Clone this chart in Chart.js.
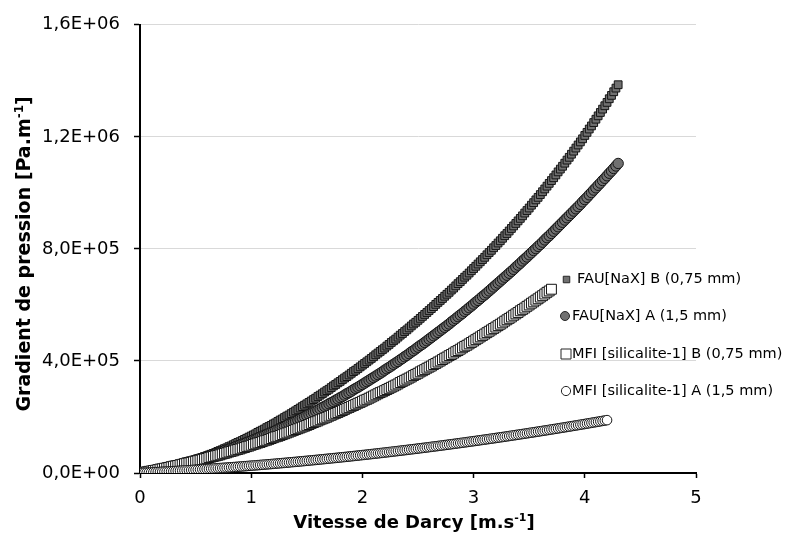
<!DOCTYPE html>
<html>
<head>
<meta charset="utf-8">
<script src="https://cdn.jsdelivr.net/npm/chart.js@4.4.1/dist/chart.umd.min.js"></script>
<style>
  html, body { margin: 0; padding: 0; background: #fff; }
</style>
</head>
<body>
<canvas id="gradientChart" width="792" height="533"></canvas>
<script>
// Vitesse de Darcy (m/s), pas de 0,02
const velocity = [
  0, 0.02, 0.04, 0.06, 0.08, 0.1, 0.12, 0.14, 0.16, 0.18,
  0.2, 0.22, 0.24, 0.26, 0.28, 0.3, 0.32, 0.34, 0.36, 0.38,
  0.4, 0.42, 0.44, 0.46, 0.48, 0.5, 0.52, 0.54, 0.56, 0.58,
  0.6, 0.62, 0.64, 0.66, 0.68, 0.7, 0.72, 0.74, 0.76, 0.78,
  0.8, 0.82, 0.84, 0.86, 0.88, 0.9, 0.92, 0.94, 0.96, 0.98,
  1, 1.02, 1.04, 1.06, 1.08, 1.1, 1.12, 1.14, 1.16, 1.18,
  1.2, 1.22, 1.24, 1.26, 1.28, 1.3, 1.32, 1.34, 1.36, 1.38,
  1.4, 1.42, 1.44, 1.46, 1.48, 1.5, 1.52, 1.54, 1.56, 1.58,
  1.6, 1.62, 1.64, 1.66, 1.68, 1.7, 1.72, 1.74, 1.76, 1.78,
  1.8, 1.82, 1.84, 1.86, 1.88, 1.9, 1.92, 1.94, 1.96, 1.98,
  2, 2.02, 2.04, 2.06, 2.08, 2.1, 2.12, 2.14, 2.16, 2.18,
  2.2, 2.22, 2.24, 2.26, 2.28, 2.3, 2.32, 2.34, 2.36, 2.38,
  2.4, 2.42, 2.44, 2.46, 2.48, 2.5, 2.52, 2.54, 2.56, 2.58,
  2.6, 2.62, 2.64, 2.66, 2.68, 2.7, 2.72, 2.74, 2.76, 2.78,
  2.8, 2.82, 2.84, 2.86, 2.88, 2.9, 2.92, 2.94, 2.96, 2.98,
  3, 3.02, 3.04, 3.06, 3.08, 3.1, 3.12, 3.14, 3.16, 3.18,
  3.2, 3.22, 3.24, 3.26, 3.28, 3.3, 3.32, 3.34, 3.36, 3.38,
  3.4, 3.42, 3.44, 3.46, 3.48, 3.5, 3.52, 3.54, 3.56, 3.58,
  3.6, 3.62, 3.64, 3.66, 3.68, 3.7, 3.72, 3.74, 3.76, 3.78,
  3.8, 3.82, 3.84, 3.86, 3.88, 3.9, 3.92, 3.94, 3.96, 3.98,
  4, 4.02, 4.04, 4.06, 4.08, 4.1, 4.12, 4.14, 4.16, 4.18,
  4.2, 4.22, 4.24, 4.26, 4.28, 4.3
];

// Gradient de pression en kPa/m (converti en Pa/m plus bas)
const fauB = [
  0, 1, 2, 3, 4, 6, 7, 9, 10, 12,
  13, 15, 17, 19, 21, 22, 25, 27, 29, 31,
  34, 36, 39, 41, 44, 46, 49, 52, 55, 58,
  61, 64, 67, 70, 73, 77, 80, 83, 87, 90,
  94, 97, 101, 105, 109, 112, 116, 120, 124, 128,
  132, 136, 140, 145, 149, 153, 157, 162, 166, 170,
  175, 179, 184, 189, 193, 198, 203, 207, 212, 217,
  222, 227, 232, 237, 242, 247, 252, 257, 262, 267,
  273, 278, 283, 289, 294, 299, 305, 311, 316, 322,
  327, 333, 339, 344, 350, 356, 362, 367, 373, 379,
  385, 391, 397, 403, 409, 415, 422, 428, 434, 440,
  446, 453, 459, 466, 472, 478, 485, 492, 498, 505,
  511, 518, 525, 532, 538, 545, 552, 559, 566, 573,
  580, 587, 594, 602, 609, 616, 623, 631, 638, 645,
  653, 660, 668, 676, 683, 691, 699, 706, 714, 722,
  730, 738, 746, 754, 762, 770, 779, 787, 795, 804,
  812, 821, 829, 838, 847, 855, 864, 873, 882, 891,
  900, 909, 918, 928, 937, 946, 956, 965, 975, 984,
  994, 1004, 1014, 1024, 1034, 1044, 1054, 1064, 1075, 1085,
  1095, 1106, 1117, 1127, 1138, 1149, 1160, 1171, 1182, 1193,
  1205, 1216, 1228, 1239, 1251, 1263, 1275, 1287, 1299, 1311,
  1323, 1336, 1348, 1361, 1374, 1386
];

const fauA = [
  0, 1, 3, 4, 6, 8, 9, 11, 13, 14,
  16, 18, 20, 22, 24, 25, 27, 29, 31, 34,
  36, 38, 40, 42, 44, 47, 49, 51, 54, 56,
  59, 61, 64, 66, 69, 71, 74, 77, 80, 82,
  85, 88, 91, 94, 97, 100, 103, 106, 109, 112,
  115, 118, 121, 125, 128, 131, 135, 138, 141, 145,
  148, 152, 155, 159, 163, 166, 170, 174, 177, 181,
  185, 189, 193, 197, 201, 205, 209, 213, 217, 221,
  225, 229, 234, 238, 242, 247, 251, 255, 260, 264,
  269, 273, 278, 283, 287, 292, 297, 302, 306, 311,
  316, 321, 326, 331, 336, 341, 346, 351, 356, 361,
  367, 372, 377, 382, 388, 393, 398, 404, 409, 415,
  420, 426, 432, 437, 443, 449, 455, 460, 466, 472,
  478, 484, 490, 496, 502, 508, 514, 520, 526, 532,
  539, 545, 551, 558, 564, 570, 577, 583, 590, 596,
  603, 610, 616, 623, 630, 636, 643, 650, 657, 664,
  671, 678, 685, 692, 699, 706, 713, 720, 727, 735,
  742, 749, 757, 764, 771, 779, 786, 794, 801, 809,
  816, 824, 832, 840, 847, 855, 863, 871, 879, 887,
  895, 903, 911, 919, 927, 935, 943, 951, 959, 968,
  976, 984, 993, 1001, 1010, 1018, 1027, 1035, 1044, 1052,
  1061, 1070, 1078, 1087, 1096, 1105
];

const mfiB = [
  0, 1, 3, 4, 6, 7, 9, 10, 12, 14,
  15, 17, 18, 20, 22, 24, 25, 27, 29, 31,
  33, 35, 36, 38, 40, 42, 44, 46, 48, 50,
  52, 55, 57, 59, 61, 63, 65, 68, 70, 72,
  75, 77, 79, 82, 84, 86, 89, 91, 94, 96,
  99, 102, 104, 107, 109, 112, 115, 117, 120, 123,
  126, 129, 131, 134, 137, 140, 143, 146, 149, 152,
  155, 158, 161, 164, 167, 170, 173, 177, 180, 183,
  186, 190, 193, 196, 199, 203, 206, 210, 213, 216,
  220, 223, 227, 231, 234, 238, 241, 245, 249, 252,
  256, 260, 263, 267, 271, 275, 279, 283, 287, 290,
  294, 298, 302, 306, 310, 314, 318, 323, 327, 331,
  335, 339, 343, 348, 352, 356, 361, 365, 369, 374,
  378, 382, 387, 391, 396, 400, 405, 410, 414, 419,
  423, 428, 433, 437, 442, 447, 452, 456, 461, 466,
  471, 476, 481, 486, 491, 496, 501, 506, 511, 516,
  521, 526, 531, 536, 542, 547, 552, 557, 563, 568,
  573, 579, 584, 589, 595, 600, 606, 611, 617, 622,
  628, 633, 639, 645, 650, 656
];

const mfiA = [
  0, 0.4, 0.8, 1.2, 1.7, 2.1, 2.5, 2.9, 3.4, 3.8,
  4.3, 4.7, 5.2, 5.7, 6.1, 6.6, 7.1, 7.5, 8, 8.5,
  9, 9.5, 10, 10.5, 11.1, 11.6, 12.1, 12.6, 13.2, 13.7,
  14.2, 14.8, 15.3, 15.9, 16.5, 17, 17.6, 18.2, 18.8, 19.3,
  19.9, 20.5, 21.1, 21.7, 22.3, 23, 23.6, 24.2, 24.8, 25.5,
  26.1, 26.7, 27.4, 28, 28.7, 29.3, 30, 30.7, 31.4, 32,
  32.7, 33.4, 34.1, 34.8, 35.5, 36.2, 36.9, 37.6, 38.4, 39.1,
  39.8, 40.6, 41.3, 42, 42.8, 43.6, 44.3, 45.1, 45.8, 46.6,
  47.4, 48.2, 49, 49.8, 50.6, 51.4, 52.2, 53, 53.8, 54.6,
  55.4, 56.3, 57.1, 57.9, 58.8, 59.6, 60.5, 61.4, 62.2, 63.1,
  64, 64.8, 65.7, 66.6, 67.5, 68.4, 69.3, 70.2, 71.1, 72,
  72.9, 73.9, 74.8, 75.7, 76.7, 77.6, 78.6, 79.5, 80.5, 81.4,
  82.4, 83.4, 84.4, 85.3, 86.3, 87.3, 88.3, 89.3, 90.3, 91.3,
  92.3, 93.4, 94.4, 95.4, 96.4, 97.5, 98.5, 99.6, 100.6, 101.7,
  102.7, 103.8, 104.9, 106, 107, 108.1, 109.2, 110.3, 111.4, 112.5,
  113.6, 114.7, 115.8, 117, 118.1, 119.2, 120.4, 121.5, 122.6, 123.8,
  125, 126.1, 127.3, 128.4, 129.6, 130.8, 132, 133.2, 134.4, 135.6,
  136.8, 138, 139.2, 140.4, 141.6, 142.9, 144.1, 145.3, 146.6, 147.8,
  149.1, 150.3, 151.6, 152.8, 154.1, 155.4, 156.7, 157.9, 159.2, 160.5,
  161.8, 163.1, 164.4, 165.7, 167, 168.4, 169.7, 171, 172.4, 173.7,
  175, 176.4, 177.7, 179.1, 180.5, 181.8, 183.2, 184.6, 186, 187.3,
  188.7
];

const seriesNames = [
  'FAU[NaX] B (0,75 mm)',
  'FAU[NaX] A (1,5 mm)',
  'MFI [silicalite-1] B (0,75 mm)',
  'MFI [silicalite-1] A (1,5 mm)'
];
const yTicks = [0, 400000, 800000, 1200000, 1600000];
const xTicks = [0, 1, 2, 3, 4, 5];

const GRAY = '#707070';
const EDGE = '#141414';
const FONT = 'DejaVu Sans';

// kPa/m -> Pa/m, couplé à la vitesse
function toPoints(values) {
  return values.map((p, i) => ({ x: velocity[i], y: p * 1000 }));
}

// 1,6E+06 style
function sciLabel(v) {
  if (v === 0) return '0,0E+00';
  const e = Math.floor(Math.log10(v) + 1e-9);
  const m = v / Math.pow(10, e);
  return m.toFixed(1).replace('.', ',') + 'E+' + String(e).padStart(2, '0');
}

// texte avec exposant "-1"
function drawSupText(ctx, size, before, sup, after, cx, y) {
  const big = 'bold ' + size + 'px "' + FONT + '"';
  const small = 'bold ' + Math.round(size * 0.63) + 'px "' + FONT + '"';
  ctx.font = big;
  const w1 = ctx.measureText(before).width;
  const w3 = ctx.measureText(after).width;
  ctx.font = small;
  const w2 = ctx.measureText(sup).width;
  let x = cx - (w1 + w2 + w3) / 2;
  ctx.textAlign = 'left';
  ctx.textBaseline = 'alphabetic';
  ctx.font = big;
  ctx.fillText(before, x, y);
  x += w1;
  ctx.font = small;
  ctx.fillText(sup, x, y - size * 0.38);
  x += w2;
  ctx.font = big;
  ctx.fillText(after, x, y);
}

// légende et titres d'axes
const overlay = {
  id: 'overlay',
  afterDraw(chart) {
    const ctx = chart.ctx;
    ctx.save();
    ctx.fillStyle = '#000';

    const legendRows = [
      { y: 279.5, mx: 566.5, tx: 577, style: 'rect', size: 6.5, fill: GRAY },
      { y: 316, mx: 565, tx: 572, style: 'circle', size: 4.5, fill: GRAY },
      { y: 354, mx: 566, tx: 572, style: 'rect', size: 10, fill: '#fff' },
      { y: 391, mx: 566, tx: 572, style: 'circle', size: 4.6, fill: '#fff' }
    ];
    legendRows.forEach((row, i) => {
      ctx.beginPath();
      if (row.style === 'rect') {
        ctx.rect(row.mx - row.size / 2, row.y - row.size / 2, row.size, row.size);
      } else {
        ctx.arc(row.mx, row.y, row.size, 0, Math.PI * 2);
      }
      ctx.fillStyle = row.fill;
      ctx.fill();
      ctx.lineWidth = 1;
      ctx.strokeStyle = '#262626';
      ctx.stroke();
      ctx.fillStyle = '#000';
      ctx.font = '14.5px "' + FONT + '"';
      ctx.textAlign = 'left';
      ctx.textBaseline = 'middle';
      ctx.fillText(seriesNames[i], row.tx, row.y);
    });

    const area = chart.chartArea;
    drawSupText(ctx, 18, 'Vitesse de Darcy [m.s', '-1', ']', (area.left + area.right) / 2 - 4, 528);

    ctx.translate(30, (area.top + area.bottom) / 2 + 5);
    ctx.rotate(-Math.PI / 2);
    drawSupText(ctx, 19, 'Gradient de pression [Pa.m', '-1', ']', 0, 0);
    ctx.restore();
  }
};

Chart.defaults.font.family = FONT;
Chart.defaults.color = '#000';

new Chart(document.getElementById('gradientChart'), {
  type: 'scatter',
  data: {
    datasets: [
      {
        label: seriesNames[0],
        data: toPoints(fauB),
        pointStyle: 'rect',
        pointRadius: 5.5,
        backgroundColor: GRAY,
        borderColor: EDGE,
        borderWidth: 1,
        order: 4
      },
      {
        label: seriesNames[1],
        data: toPoints(fauA),
        pointStyle: 'circle',
        pointRadius: 5.2,
        backgroundColor: GRAY,
        borderColor: EDGE,
        borderWidth: 1,
        order: 3
      },
      {
        label: seriesNames[2],
        data: toPoints(mfiB),
        pointStyle: 'rect',
        pointRadius: 7,
        backgroundColor: '#fff',
        borderColor: EDGE,
        borderWidth: 1,
        order: 2
      },
      {
        label: seriesNames[3],
        data: toPoints(mfiA),
        pointStyle: 'circle',
        pointRadius: 4.8,
        backgroundColor: '#fff',
        borderColor: EDGE,
        borderWidth: 1,
        order: 1
      }
    ]
  },
  options: {
    responsive: false,
    animation: false,
    devicePixelRatio: 1,
    layout: { padding: { top: 23, right: 96, bottom: 0, left: 0 } },
    plugins: {
      legend: { display: false },
      tooltip: { enabled: false }
    },
    scales: {
      x: {
        type: 'linear',
        min: 0,
        max: 5,
        afterFit: s => { s.height = 60; },
        afterBuildTicks: s => { s.ticks = xTicks.map(v => ({ value: v })); },
        grid: { drawOnChartArea: false, tickColor: '#000', tickLength: 5, tickWidth: 1.5 },
        border: { color: '#000', width: 2 },
        ticks: { font: { size: 18 }, color: '#000', padding: 10, callback: v => String(v) }
      },
      y: {
        min: 0,
        max: 1600000,
        afterFit: s => { s.width = 140; },
        afterBuildTicks: s => { s.ticks = yTicks.map(v => ({ value: v })); },
        grid: { color: '#d9d9d9', lineWidth: 1, tickColor: '#000', tickLength: 6, tickWidth: 1.5 },
        border: { color: '#000', width: 2 },
        ticks: { font: { size: 18 }, color: '#000', padding: 14, callback: v => sciLabel(v) }
      }
    }
  },
  plugins: [overlay]
});
</script>
</body>
</html>
